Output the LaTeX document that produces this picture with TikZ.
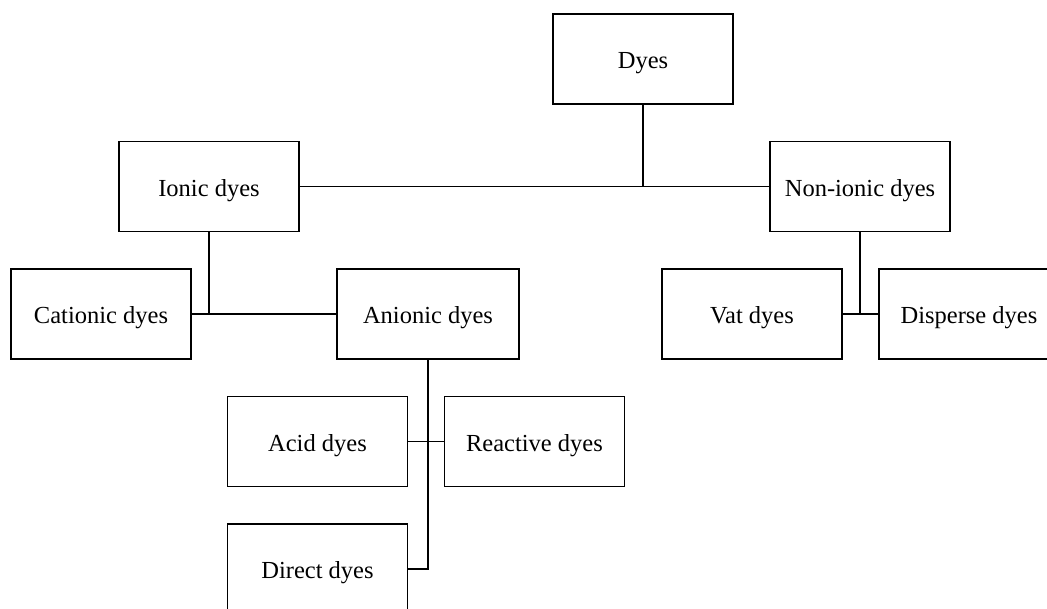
\documentclass[tikz,border=0pt]{standalone}
\usepackage{fontspec}
\setmainfont{Liberation Serif}
\begin{document}
\begin{tikzpicture}[x=1pt,y=-1pt,
  box/.style={draw=black, line width=1.8pt, fill=white, inner sep=0pt,
    minimum width=180pt, minimum height=90pt,
    text height=19pt, text depth=0pt,
    font=\fontsize{24.5}{29}\selectfont},
  link/.style={draw=black, line width=1.8pt}]
  \clip (0,0) rectangle (1047,608);
  \fill[white] (0,0) rectangle (1047,608);

  % categories
  \node[box] (dyes)     at (643,59)    {Dyes};
  \node[box] (ionic)    at (209,186.5) {Ionic dyes};
  \node[box] (nonionic) at (860,186.5) {Non-ionic dyes};
  \node[box] (cationic) at (101,314)   {Cationic dyes};
  \node[box, minimum width=182pt] (anionic) at (428,314) {Anionic dyes};
  \node[box] (vat)      at (752,314)   {Vat dyes};
  \node[box] (disperse) at (969,314)   {Disperse dyes};
  \node[box] (acid)     at (317.5,441.5) {Acid dyes};
  \node[box] (reactive) at (534.5,441.5) {Reactive dyes};
  \node[box] (direct)   at (317.5,569) {Direct dyes};

  % tree links
  \draw[link] (dyes.south) -- (dyes.south |- ionic.east);
  \draw[link] (ionic.east) -- (nonionic.west);
  \draw[link] (ionic.south) -- (ionic.south |- cationic.east);
  \draw[link] (cationic.east) -- (anionic.west);
  \draw[link] (nonionic.south) -- (nonionic.south |- vat.east);
  \draw[link] (vat.east) -- (disperse.west);
  \draw[link] (anionic.south) -- (anionic.south |- direct.east) -- (direct.east);
  \draw[link] (acid.east) -- (reactive.west);
\end{tikzpicture}
\end{document}
